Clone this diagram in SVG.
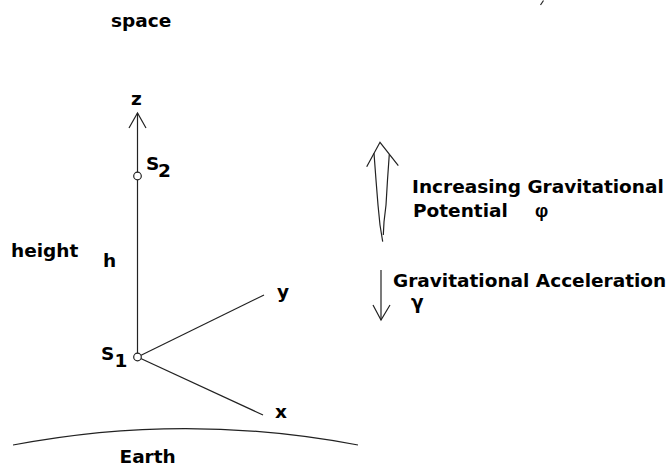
<svg xmlns="http://www.w3.org/2000/svg" width="672" height="466" viewBox="0 0 672 466">
<style>
text{font-family:"DejaVu Sans",Verdana,sans-serif;font-weight:bold;font-size:18.5px;fill:#000}
.greek{font-family:"Liberation Sans",Arial,sans-serif}
.ln{stroke:#222;stroke-width:1.2;fill:none}
.pt{stroke:#222;stroke-width:1.2;fill:#fff}
</style>
<rect width="672" height="466" fill="#fff"/>
<line class="ln" x1="543.5" y1="0.5" x2="540.5" y2="5"/>
<text id="space" x="111" y="27">space</text>
<g id="connectors">
<line class="ln" x1="137.5" y1="113" x2="137.5" y2="357"/>
<polyline class="ln" points="129,128 137.5,113 146,128"/>
<line class="ln" x1="137.5" y1="357" x2="264" y2="295"/>
<line class="ln" x1="137.5" y1="357" x2="263" y2="415"/>
</g>
<g id="z"><text x="131" y="105">z</text></g>
<g id="s2"><circle class="pt" cx="137.5" cy="176" r="3.8"/><text x="146" y="169.5">S</text><text x="158" y="177">2</text></g>
<g id="s1"><circle class="pt" cx="137.5" cy="357" r="3.8"/><text x="101" y="360">S</text><text x="114.5" y="367">1</text></g>
<g id="y"><text x="277" y="298">y</text></g>
<g id="x"><text x="275" y="418">x</text></g>
<text id="height" x="11" y="257">height</text>
<text id="h" x="103" y="266.5">h</text>
<g id="potential-arrow">
<polyline class="ln" points="366.7,166.7 380,142.3 398.3,165.7"/>
<polyline class="ln" points="374,153.3 376,180 378,205 380,225 382.7,241.7"/>
<polyline class="ln" points="389.3,154.3 387.5,180 386,205 384,222 383.3,235"/>
</g>
<g id="potential-label">
<text x="412" y="193">Increasing Gravitational</text>
<text x="413" y="217">Potential</text>
<text class="greek" x="535" y="217">φ</text>
</g>
<g id="accel-arrow">
<line class="ln" x1="381" y1="270" x2="381" y2="320"/>
<polyline class="ln" points="373,305 381,320 390,305"/>
</g>
<g id="accel-label">
<text x="393" y="286.5">Gravitational Acceleration</text>
<text x="411" y="309">γ</text>
</g>
<g id="earth">
<path class="ln" d="M13,445 A921,921 0 0 1 358,445"/>
<text x="119.5" y="463">Earth</text>
</g>
</svg>
